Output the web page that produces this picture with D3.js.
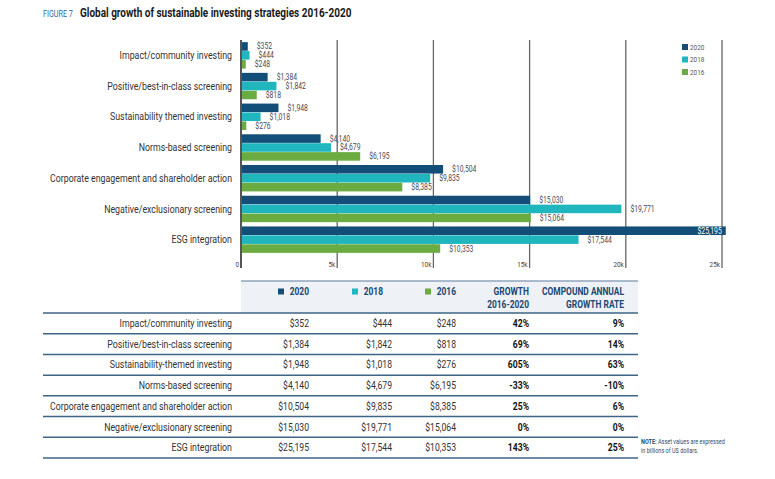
<!DOCTYPE html>
<html>
<head>
<meta charset="utf-8">
<script src="https://cdn.jsdelivr.net/npm/d3@7"></script>
<style>
  body { margin: 0; background: #fff; }
  text { font-family: "Roboto", sans-serif; }
</style>
</head>
<body>
<div class="chart"></div>
<script>
var width = 775, height = 479;

var categories = ['Impact/community investing', 'Positive/best-in-class screening',
    'Sustainability themed investing', 'Norms-based screening',
    'Corporate engagement and shareholder action', 'Negative/exclusionary screening',
    'ESG integration'];
var tableCategories = ['Impact/community investing', 'Positive/best-in-class screening',
    'Sustainability-themed investing', 'Norms-based screening',
    'Corporate engagement and shareholder action', 'Negative/exclusionary screening',
    'ESG integration'];
var years = ['2020', '2018', '2016'];
var v2020 = [352, 1384, 1948, 4140, 10504, 15030, 25195];
var v2018 = [444, 1842, 1018, 4679, 9835, 19771, 17544];
var v2016 = [248, 818, 276, 6195, 8385, 15064, 10353];
var growth = ['42%', '69%', '605%', '-33%', '25%', '0%', '143%'];
var cagr = ['9%', '14%', '63%', '-10%', '6%', '0%', '25%'];
var tickValues = [0, 5000, 10000, 15000, 20000, 25000];
var tickLabels = ['0', '5k', '10k', '15k', '20k', '25k'];

var colorKey = { '2020': '#124e78', '2018': '#20b6be', '2016': '#6aab42' };
var series = { '2020': v2020, '2018': v2018, '2016': v2016 };
var money = d3.format('$,');

// the source uses a condensed face, so squeeze Roboto sideways
var K = 0.82;
function txt(parent, x, y, str, k) {
    return parent.append('text')
        .attr('transform', 'translate(' + x + ',' + y + ') scale(' + (k || K) + ',1)')
        .text(str);
}

var svg = d3.select('.chart').append('svg')
    .attr('width', width)
    .attr('height', height);

// title
txt(svg, 43, 16.5, 'FIGURE 7', 0.8)
    .attr('fill', '#2d6ca6')
    .style('font-size', '9px');
txt(svg, 80, 16.5, 'Global growth of sustainable investing strategies 2016-2020', 0.8)
    .attr('fill', '#1a1a1a')
    .style('font-size', '12.5px')
    .style('font-weight', 'bold');

var x = d3.scaleLinear().domain([0, 25000]).range([241, 722]);
var y = d3.scaleBand().domain(categories).range([40, 255]).paddingInner(0.14).paddingOuter(0.07);
var ySub = d3.scaleBand().domain(years).range([0, y.bandwidth()]).paddingInner(0.04);

// gridlines
svg.append('g').selectAll('line')
    .data(tickValues.slice(1))
    .enter().append('line')
    .attr('x1', function(d) { return x(d); })
    .attr('x2', function(d) { return x(d); })
    .attr('y1', 40).attr('y2', 268)
    .attr('stroke', '#666').attr('stroke-width', 1.3);

// bars
var groups = svg.append('g').selectAll('g')
    .data(categories)
    .enter().append('g')
    .attr('transform', function(d) { return 'translate(0,' + y(d) + ')'; });

groups.each(function(cat, i) {
    var g = d3.select(this);
    years.forEach(function(yr) {
        var v = series[yr][i];
        g.append('rect')
            .attr('x', x(0))
            .attr('y', ySub(yr))
            .attr('width', x(v) - x(0))
            .attr('height', ySub.bandwidth())
            .attr('fill', colorKey[yr]);
        var inside = x(v) > 700;
        txt(g, inside ? x(v) - 4 : x(v) + 9, ySub(yr) + ySub.bandwidth() / 2, money(v), 0.8)
            .attr('dy', '0.35em')
            .attr('text-anchor', inside ? 'end' : 'start')
            .attr('fill', inside ? '#fff' : '#4a4a55')
            .style('font-size', '8.5px');
    });
});

// category labels
categories.forEach(function(d) {
    txt(svg, 232, y(d) + y.bandwidth() / 2, d, 0.84)
        .attr('dy', '0.35em')
        .attr('text-anchor', 'end')
        .attr('fill', '#333')
        .style('font-size', '10.5px');
});

// zero axis line
svg.append('line')
    .attr('x1', x(0)).attr('x2', x(0))
    .attr('y1', 40).attr('y2', 268)
    .attr('stroke', '#555').attr('stroke-width', 2);

// tick labels
tickValues.forEach(function(d, i) {
    txt(svg, x(d) - 2, 267, tickLabels[i], 0.85)
        .attr('text-anchor', 'end')
        .attr('fill', '#444')
        .style('font-size', '7.5px');
});

// legend
var legend = svg.append('g').selectAll('g')
    .data(years)
    .enter().append('g')
    .attr('transform', function(d, i) { return 'translate(682,' + (44 + i * 12.5) + ')'; });
legend.append('rect')
    .attr('width', 6).attr('height', 6)
    .attr('fill', function(d) { return colorKey[d]; });
legend.each(function(d) {
    txt(d3.select(this), 8, 3, d, 0.85)
        .attr('dy', '0.35em')
        .attr('fill', '#555')
        .style('font-size', '7.5px');
});

// table
var rowY = d3.scaleBand().domain(tableCategories).range([313, 458]);
var colRight = [309, 392, 456, 529, 624];

svg.append('rect')
    .attr('x', 241).attr('y', 281)
    .attr('width', 397).attr('height', 32)
    .attr('fill', '#eef1f6');
svg.append('line')
    .attr('x1', 241).attr('x2', 638)
    .attr('y1', 281).attr('y2', 281)
    .attr('stroke', '#8fa5bb').attr('stroke-width', 1.5);

var headRight = [309, 383, 456];
years.forEach(function(yr, i) {
    txt(svg, headRight[i], 295, yr, 0.8)
        .attr('text-anchor', 'end')
        .attr('fill', '#1b4873')
        .style('font-size', '10.5px')
        .style('font-weight', 'bold');
    svg.append('rect')
        .attr('x', headRight[i] - 31).attr('y', 288.5)
        .attr('width', 6).attr('height', 6)
        .attr('fill', colorKey[yr]);
});
[['GROWTH', '2016-2020'], ['COMPOUND ANNUAL', 'GROWTH RATE']].forEach(function(lines, i) {
    lines.forEach(function(t, j) {
        txt(svg, colRight[3 + i], 295 + j * 13, t, 0.8)
            .attr('text-anchor', 'end')
            .attr('fill', '#1b4873')
            .style('font-size', '10.5px')
            .style('font-weight', 'bold');
    });
});

// row lines
svg.append('g').selectAll('line')
    .data(tableCategories)
    .enter().append('line')
    .attr('x1', 43).attr('x2', 638)
    .attr('y1', function(d) { return rowY(d) + rowY.bandwidth(); })
    .attr('y2', function(d) { return rowY(d) + rowY.bandwidth(); })
    .attr('stroke', '#3f6586').attr('stroke-width', 1.5);
svg.append('line')
    .attr('x1', 43).attr('x2', 638)
    .attr('y1', 313).attr('y2', 313)
    .attr('stroke', '#3f6586').attr('stroke-width', 1.5);

tableCategories.forEach(function(cat, i) {
    var cy = rowY(cat) + rowY.bandwidth() / 2;
    txt(svg, 232, cy, cat, 0.84)
        .attr('dy', '0.35em')
        .attr('text-anchor', 'end')
        .attr('fill', '#333')
        .style('font-size', '10.5px');
    var cells = [money(v2020[i]), money(v2018[i]), money(v2016[i]), growth[i], cagr[i]];
    cells.forEach(function(c, k) {
        txt(svg, colRight[k], cy, c, 0.82)
            .attr('dy', '0.35em')
            .attr('text-anchor', 'end')
            .attr('fill', k > 2 ? '#111' : '#333')
            .style('font-size', '10.5px')
            .style('font-weight', k > 2 ? 'bold' : 'normal');
    });
});

// note
var note = txt(svg, 641, 444, '', 0.85)
    .attr('fill', '#2b4a6b')
    .style('font-size', '6.5px');
note.append('tspan').style('font-weight', 'bold').text('NOTE: ');
note.append('tspan').text('Asset values are expressed');
txt(svg, 641, 452.5, 'in billions of US dollars.', 0.85)
    .attr('fill', '#2b4a6b')
    .style('font-size', '6.5px');
</script>
</body>
</html>
